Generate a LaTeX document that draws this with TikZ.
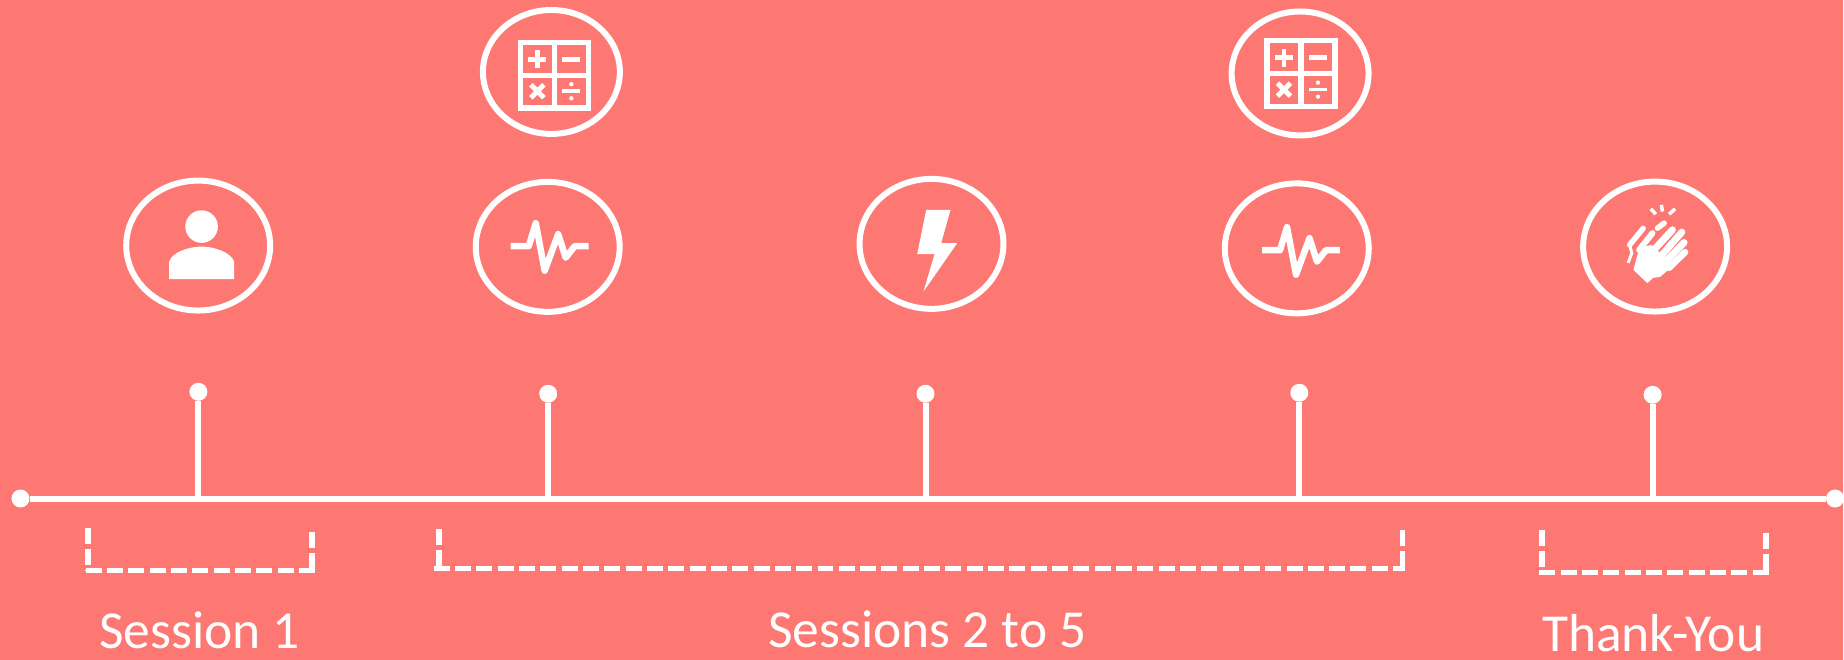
\documentclass[tikz,border=0pt]{standalone}
\usepackage{fontspec}
\setmainfont{Carlito}
\usetikzlibrary{positioning,shapes.geometric}
\definecolor{SessionRed}{HTML}{FD7872}
\begin{document}
\begin{tikzpicture}[x=1pt,y=-1pt,font=\fontsize{53.5}{60}\selectfont]
\tikzset{ring/.style={draw=white,line width=6pt,ellipse,inner sep=0pt,outer sep=0pt,minimum width=144pt,minimum height=130pt},
         calcring/.style={ring,minimum width=137pt,minimum height=124pt},
         pin/.style={circle,fill=white,inner sep=0pt,minimum size=18pt},
         stem/.style={draw=white,line width=6pt},
         bracket/.style={draw=white,line width=5.5pt,dash pattern=on 16pt off 5.33pt},
         sessionlabel/.style={text=white,anchor=base,inner sep=0pt},
         calcicon/.pic={
           \draw[white,line width=5.5pt] (-34,-33) rectangle (34,33);
           \draw[white,line width=5.5pt] (0,-33) -- (0,33) (-34,0) -- (34,0);
           \draw[white,line width=4.5pt] (-26,-16) -- (-8,-16) (-17,-25) -- (-17,-7);
           \draw[white,line width=4.5pt] (8,-16) -- (26,-16);
           \draw[white,line width=5pt] (-23.5,9.5) -- (-10.5,22.5) (-23.5,22.5) -- (-10.5,9.5);
           \draw[white,line width=3.5pt] (8,16) -- (26,16);
           \fill[white] (17,9) circle (2.2) (17,23) circle (2.2);
         },
         pulseicon/.pic={
           \draw[white,line width=6.5pt,line join=round] (-37,0) -- (-19,0) -- (-12,-23) -- (-3,24.5) -- (10.5,-12) -- (18,11.5) -- (27,0) -- (41,0);
         }}
\fill[SessionRed] (0,0) rectangle (1844,660);
% timeline
\node[pin] (startdot) at (20.5,498.8) {};
\node[pin] (enddot) at (1836,498.8) {};
\node[pin] (pinA) at (198.5,392) {};
\node[pin] (pinB) at (548.5,394) {};
\node[pin] (pinC) at (926,394) {};
\node[pin] (pinD) at (1300,393) {};
\node[pin] (pinE) at (1653.5,395) {};
\draw[stem] (startdot) -- (enddot);
\draw[stem] (pinA) -- (pinA |- startdot.center);
\draw[stem] (pinB) -- (pinB |- startdot.center);
\draw[stem] (pinC) -- (pinC |- startdot.center);
\draw[stem] (pinD) -- (pinD |- startdot.center);
\draw[stem] (pinE) -- (pinE |- startdot.center);
% rings
\node[ring] (person) at (198.3,245.7) {};
\node[ring] (pulseA) at (548,247) {};
\node[ring] (bolt) at (932,244) {};
\node[ring] (pulseB) at (1297.5,248.5) {};
\node[ring] (clap) at (1656,246.7) {};
\node[calcring,above=48pt of pulseA,xshift=3.7pt] (calcA) {};
\node[calcring,above=48pt of pulseB,xshift=3.3pt] (calcB) {};
% icons
\pic at (554.7,75.3) {calcicon};
\pic at (1301.7,73.7) {calcicon};
\pic at (548,246.3) {pulseicon};
\pic at (1299.7,250.3) {pulseicon};
\fill[white] (201.7,226.7) circle (16.3);
\fill[white] (169.3,279.3) -- (169.3,261.7) .. controls (172,252) and (190,246.7) .. (201.7,246.7) .. controls (213,246.7) and (231,252) .. (234.3,261.7) -- (234.3,279.3) -- cycle;
\fill[white] (926.7,210) -- (951,210) -- (941.7,243.3) -- (957.7,243.3) -- (924,291.7) -- (935,254.3) -- (917.7,254.3) -- cycle;
\draw[white,line width=3.5pt] (1651.7,209) -- (1656.7,214.3) (1662.3,205) -- (1663.3,211.7) (1676,209) -- (1670,214.3);
\draw[white,line width=5.5pt,line cap=round] (1658.3,228.3) -- (1665,223.3);
\draw[white,line width=5.5pt,line cap=round] (1630.5,245) -- (1644,228.5);
\draw[white,line width=3pt] (1630.5,245) -- (1632.7,253.3) -- (1629,263);
\draw[white,line width=6pt,line cap=round] (1640,250) -- (1653.3,233.3);
\draw[white,line width=7pt,line cap=round] (1653.3,251.7) -- (1673.3,230);
\draw[white,line width=7pt,line cap=round] (1660,258.3) -- (1682.7,232.3);
\draw[white,line width=7pt,line cap=round] (1666.7,261.7) -- (1685,242.7);
\draw[white,line width=6.5pt,line cap=round] (1670,268) -- (1686,252.3);
\fill[white] (1634.3,270) -- (1648.3,283.3) -- (1654,278) -- (1661,277) -- (1674,266) -- (1668,258) -- (1660,252) -- (1652,245) -- (1641,248) -- (1638,256) -- cycle;
% brackets
\coordinate (bracketAl) at (88,528);
\coordinate (bracketAr) at (312,532);
\coordinate (bracketAs) at (85.7,571);
\coordinate (bracketAe) at (315,571);
\coordinate (bracketBl) at (439,529);
\coordinate (bracketBr) at (1403,530);
\coordinate (bracketBs) at (434,569);
\coordinate (bracketBe) at (1405.7,569);
\coordinate (bracketCl) at (1543,530);
\coordinate (bracketCr) at (1767,533);
\coordinate (bracketCs) at (1540.3,573);
\coordinate (bracketCe) at (1769.7,573);
\draw[bracket] (bracketAl) -- (bracketAl |- bracketAs) (bracketAr) -- (bracketAr |- bracketAs) (bracketAs) -- (bracketAe);
\draw[bracket] (bracketBl) -- (bracketBl |- bracketBs) (bracketBr) -- (bracketBr |- bracketBs) (bracketBs) -- (bracketBe);
\draw[bracket] (bracketCl) -- (bracketCl |- bracketCs) (bracketCr) -- (bracketCr |- bracketCs) (bracketCs) -- (bracketCe);
% labels
\node[sessionlabel] (labelA) at (199.5,649) {Session 1};
\node[sessionlabel] (labelB) at (928,647.5) {Sessions 2 to 5};
\node[sessionlabel] (labelC) at (1654,652) {Thank-You};
\end{tikzpicture}
\end{document}
